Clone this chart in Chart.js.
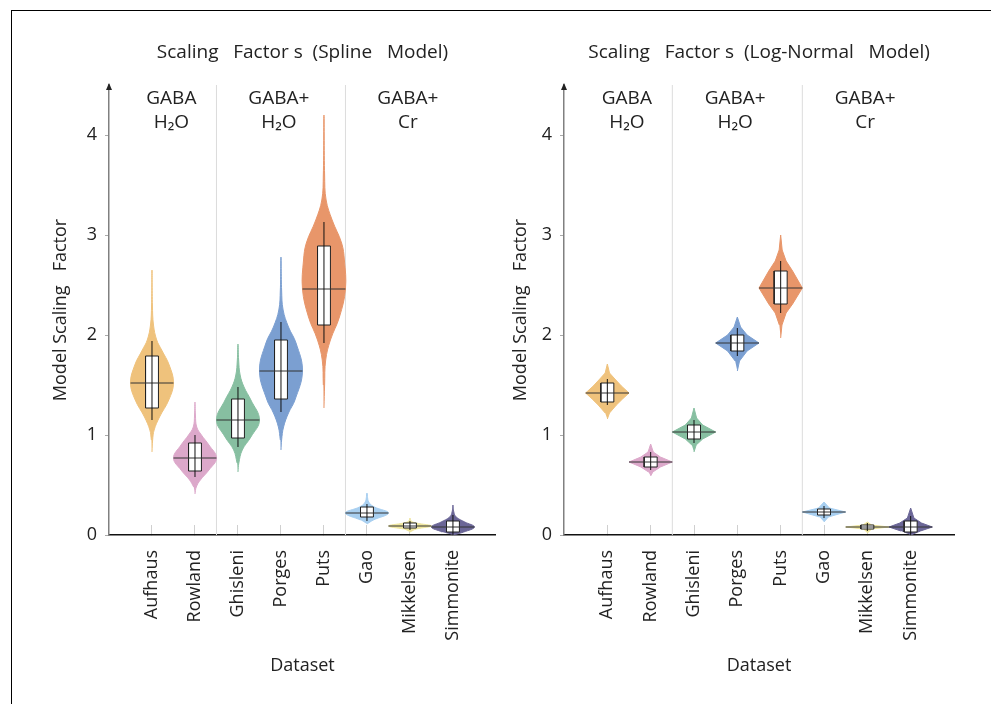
<!DOCTYPE html>
<html>
<head>
<meta charset="utf-8">
<script src="https://cdn.jsdelivr.net/npm/chart.js@4.4.0/dist/chart.umd.min.js"></script>
<style>
  body { margin: 0; background: #fff; }
  #frame { position: absolute; left: 11px; top: 10px; width: 990px; height: 700px; border-top: 1px solid #000; border-left: 1px solid #000; }
  canvas { position: absolute; }
  #left { left: 12px; top: 11px; }
  #right { left: 500px; top: 11px; }
</style>
</head>
<body>
<div id="frame"></div>
<canvas id="left" width="488" height="693"></canvas>
<canvas id="right" width="491" height="693"></canvas>
<script>
const categories = ['Aufhaus', 'Rowland', 'Ghisleni', 'Porges', 'Puts', 'Gao', 'Mikkelsen', 'Simmonite'];
const colors = ['#efc27c', '#dca8ca', '#87bfa1', '#7b9fd1', '#e8966a', '#a8cff0', '#eee59e', '#6b6697'];
const groupNames = [['GABA', 'H₂O'], ['GABA+', 'H₂O'], ['GABA+', 'Cr']];
const groupCenters = [1.45, 3.95, 6.95];
const groupSplits = [2.5, 5.5];
const yTicks = [0, 1, 2, 3, 4];

// Spline model
const splineMedian = [1.52, 0.77, 1.15, 1.64, 2.46, 0.22, 0.09, 0.08];
const splineQ1 = [1.27, 0.64, 0.97, 1.36, 2.10, 0.18, 0.07, 0.03];
const splineQ3 = [1.79, 0.92, 1.36, 1.95, 2.89, 0.28, 0.12, 0.14];
const splineLo = [1.15, 0.58, 0.88, 1.23, 1.92, 0.14, 0.05, 0.00];
const splineHi = [1.94, 1.00, 1.48, 2.13, 3.13, 0.31, 0.14, 0.20];
// [value, relative half width], bottom to top
const splineDensity = [
  [[0.83, 0], [0.95, 0.03], [1.05, 0.1], [1.18, 0.35], [1.35, 0.78], [1.52, 1.0], [1.7, 0.8], [1.85, 0.45], [1.95, 0.22], [2.1, 0.07], [2.3, 0.02], [2.65, 0]],
  [[0.41, 0], [0.48, 0.06], [0.55, 0.25], [0.65, 0.65], [0.77, 1.0], [0.9, 0.65], [1.0, 0.3], [1.08, 0.08], [1.2, 0.02], [1.33, 0]],
  [[0.63, 0], [0.72, 0.04], [0.85, 0.2], [0.98, 0.6], [1.15, 1.0], [1.35, 0.6], [1.48, 0.28], [1.6, 0.1], [1.75, 0.03], [1.91, 0]],
  [[0.85, 0], [0.95, 0.03], [1.08, 0.12], [1.22, 0.35], [1.35, 0.65], [1.64, 1.0], [1.92, 0.7], [2.08, 0.35], [2.25, 0.1], [2.45, 0.03], [2.78, 0]],
  [[1.27, 0], [1.5, 0.03], [1.75, 0.08], [1.95, 0.3], [2.18, 0.72], [2.46, 1.0], [2.75, 0.95], [2.92, 0.82], [3.15, 0.38], [3.35, 0.1], [3.6, 0.03], [4.2, 0]],
  [[0.11, 0], [0.15, 0.3], [0.22, 1.0], [0.28, 0.35], [0.33, 0.08], [0.42, 0]],
  [[0.03, 0], [0.06, 0.3], [0.09, 1.0], [0.12, 0.3], [0.14, 0.05], [0.17, 0]],
  [[0.0, 0], [0.03, 0.5], [0.08, 1.0], [0.13, 0.55], [0.18, 0.15], [0.23, 0.04], [0.30, 0]]
];

// Log-normal model
const lognMedian = [1.42, 0.73, 1.03, 1.92, 2.47, 0.23, 0.08, 0.08];
const lognQ1 = [1.33, 0.68, 0.96, 1.84, 2.31, 0.20, 0.06, 0.03];
const lognQ3 = [1.52, 0.78, 1.10, 2.00, 2.64, 0.26, 0.10, 0.14];
const lognLo = [1.30, 0.65, 0.92, 1.79, 2.22, 0.17, 0.04, 0.00];
const lognHi = [1.56, 0.83, 1.15, 2.07, 2.74, 0.29, 0.12, 0.19];
const lognDensity = [
  [[1.16, 0], [1.22, 0.1], [1.3, 0.42], [1.36, 0.7], [1.42, 1.0], [1.49, 0.65], [1.56, 0.35], [1.62, 0.1], [1.71, 0]],
  [[0.59, 0], [0.63, 0.1], [0.68, 0.45], [0.73, 1.0], [0.78, 0.45], [0.83, 0.12], [0.91, 0]],
  [[0.83, 0], [0.9, 0.1], [0.96, 0.4], [1.03, 1.0], [1.1, 0.4], [1.17, 0.12], [1.27, 0]],
  [[1.64, 0], [1.74, 0.1], [1.84, 0.45], [1.92, 1.0], [2.0, 0.45], [2.08, 0.15], [2.18, 0]],
  [[1.97, 0], [2.1, 0.06], [2.22, 0.25], [2.31, 0.55], [2.47, 1.0], [2.64, 0.55], [2.74, 0.25], [2.85, 0.07], [3.0, 0]],
  [[0.13, 0], [0.18, 0.2], [0.23, 1.0], [0.27, 0.25], [0.33, 0]],
  [[0.02, 0], [0.06, 0.2], [0.08, 1.0], [0.10, 0.2], [0.13, 0]],
  [[0.0, 0], [0.04, 0.45], [0.08, 1.0], [0.12, 0.5], [0.17, 0.15], [0.27, 0]]
];

Chart.defaults.font.family = '"Open Sans", "Noto Sans", sans-serif';
Chart.defaults.color = '#222';

const font = { size: 18 };
const VW = 0.5;   // violin half width in category units
const BW = 0.15;  // box half width

function buildSets(median, q1, q3, lo, hi, density, tension) {
  const sets = [];
  groupSplits.forEach(s => {
    sets.push({ data: [{ x: s, y: 0 }, { x: s, y: 4.5 }], borderColor: '#dcdcdc', borderWidth: 1, order: 10 });
  });
  categories.forEach((name, i) => {
    const c = i + 1;
    const prof = density[i];
    const right = prof.map(([v, w]) => ({ x: c + w * VW, y: v }));
    const left = prof.slice(1, -1).reverse().map(([v, w]) => ({ x: c - w * VW, y: v }));
    sets.push({
      label: name, data: right.concat(left), fill: 'shape', tension: tension,
      backgroundColor: colors[i], borderColor: colors[i], borderWidth: 1, order: 5
    });
    sets.push({
      data: [{ x: c - BW, y: q1[i] }, { x: c + BW, y: q1[i] }, { x: c + BW, y: q3[i] }, { x: c - BW, y: q3[i] }, { x: c - BW, y: q1[i] }],
      fill: 'shape', backgroundColor: '#fff', borderColor: '#222', borderWidth: 1, tension: 0, order: 3
    });
    sets.push({ data: [{ x: c - VW, y: median[i] }, { x: c + VW, y: median[i] }], borderColor: '#333', borderWidth: 1, order: 2 });
    sets.push({ data: [{ x: c, y: lo[i] }, { x: c, y: hi[i] }], borderColor: '#111', borderWidth: 1, order: 1 });
  });
  return sets;
}

const decor = {
  id: 'decor',
  afterDraw(chart) {
    const { ctx, chartArea, scales } = chart;
    ctx.save();
    // arrow head on the y axis
    const ax = chartArea.left;
    ctx.fillStyle = '#222';
    ctx.beginPath();
    ctx.moveTo(ax, chartArea.top - 2);
    ctx.lineTo(ax - 3, chartArea.top + 5);
    ctx.lineTo(ax + 3, chartArea.top + 5);
    ctx.closePath();
    ctx.fill();
    // group labels
    ctx.font = '19px "Open Sans", "Noto Sans", sans-serif';
    ctx.textAlign = 'center';
    ctx.textBaseline = 'middle';
    ctx.fillStyle = '#222';
    groupNames.forEach((lines, g) => {
      const x = scales.x.getPixelForValue(groupCenters[g]);
      lines.forEach((t, k) => ctx.fillText(t, x, chartArea.top + 14 + k * 24));
    });
    ctx.restore();
  }
};

function makeChart(id, title, sets, yWidth, yTitlePad, padRight) {
  return new Chart(document.getElementById(id), {
    type: 'line',
    data: { datasets: sets },
    options: {
      responsive: false,
      animation: false,
      events: [],
      layout: { padding: { left: 0, right: padRight, top: 0, bottom: 0 } },
      elements: { point: { radius: 0 } },
      plugins: {
        legend: { display: false },
        tooltip: { enabled: false },
        title: {
          display: true, text: title, fullSize: false, color: '#222',
          font: { size: 19, weight: 'normal' }, padding: { top: 30.6, bottom: 20.6 }
        }
      },
      scales: {
        x: {
          type: 'linear', min: 0, max: 9,
          afterBuildTicks: s => { s.ticks = categories.map((_, i) => ({ value: i + 1 })); },
          afterFit: s => { s.height = 169; },
          grid: { drawOnChartArea: false, tickLength: -10, tickColor: '#cfcfcf', color: '#cfcfcf' },
          border: { color: '#111', width: 1.5 },
          ticks: { autoSkip: false, minRotation: 90, maxRotation: 90, padding: 25, font: font, color: '#222',
                   callback: v => categories[v - 1] },
          title: { display: true, text: 'Dataset', font: font, color: '#222', padding: { top: 0, bottom: 27 } }
        },
        y: {
          min: 0, max: 4.5,
          afterBuildTicks: s => { s.ticks = yTicks.map(v => ({ value: v })); },
          afterFit: s => { s.width = yWidth; },
          grid: { drawOnChartArea: false, tickLength: 4, tickColor: '#aaa' },
          border: { color: '#808080', width: 1.5 },
          ticks: { padding: 8, font: font, color: '#222' },
          title: { display: true, text: 'Model Scaling   Factor', font: font, color: '#222', padding: { top: yTitlePad, bottom: 0 } }
        }
      }
    },
    plugins: [decor]
  });
}

makeChart('left', 'Scaling   Factor s  (Spline   Model)',
  buildSets(splineMedian, splineQ1, splineQ3, splineLo, splineHi, splineDensity, 0.4), 97, 38, 1);
makeChart('right', 'Scaling   Factor s  (Log-Normal   Model)',
  buildSets(lognMedian, lognQ1, lognQ3, lognLo, lognHi, lognDensity, 0), 64, 10, 37);
</script>
</body>
</html>
